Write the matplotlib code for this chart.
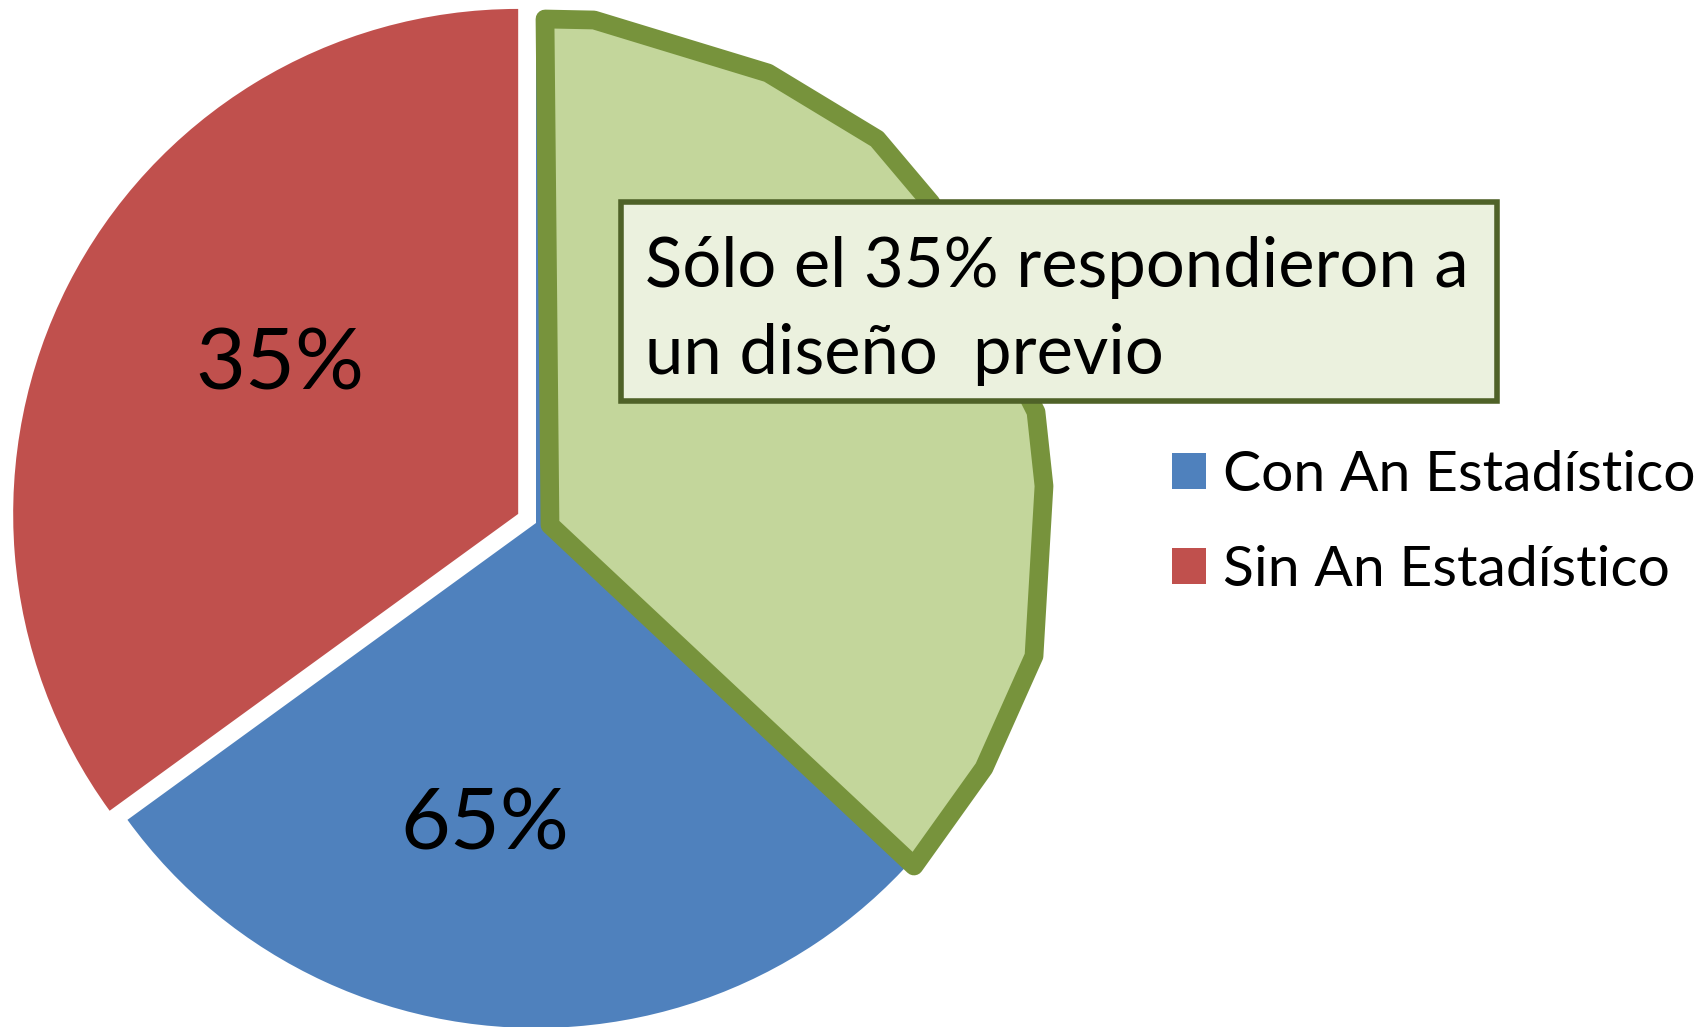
import numpy as np
import matplotlib.pyplot as plt
from matplotlib.patches import Polygon, Rectangle

plt.rcParams['font.family'] = ['Lato', 'DejaVu Sans']

W, H = 1701, 1027

labels = ["Con An Estadístico", "Sin An Estadístico"]
values = [65, 35]
colors = ["#4F81BD", "#C0504D"]
note_lines = ["Sólo el 35% respondieron a", "un diseño  previo"]

# hand-drawn highlight over the pie, in image pixels (x right, y down)
highlight = np.array([(545, 19), (594, 20), (768, 73), (877, 139), (931, 203),
                      (1036, 412), (1044, 486), (1034, 656), (984, 768),
                      (914, 866), (550, 525)], dtype=float)


def img(x, y):
    # image pixel -> data coords (y up)
    return x, H - y


fig = plt.figure(figsize=(W / 100, H / 100), dpi=100)
ax = fig.add_axes([0, 0, 1, 1])

cx, cy = img(536, 523)
# explode is in data units here (pixels)
wedges, _ = ax.pie(values, colors=colors, explode=[0, 20], startangle=216,
                   counterclock=True, center=(cx, cy), radius=505, frame=True,
                   wedgeprops=dict(linewidth=0))
ax.set_xlim(0, W)
ax.set_ylim(0, H)
ax.axis('off')

# percentage labels
pct_pos = [img(485, 826), img(280, 366)]
for v, (x, y) in zip(values, pct_pos):
    ax.text(x, y, "{}%".format(v), fontsize=62, ha='center', va='center',
            color='black', zorder=6)

# green highlight shape
pts = highlight.copy()
pts[:, 1] = H - pts[:, 1]
ax.add_patch(Polygon(pts, closed=True, facecolor="#C3D69B", edgecolor="#77933C",
                     linewidth=13.5, joinstyle='round', zorder=4))

# note box
x0, y0 = img(621, 401)
ax.add_patch(Rectangle((x0, y0), 1497 - 621, 401 - 202, facecolor="#EBF1DE",
                       edgecolor="#4F6228", linewidth=4, zorder=5))
for i, line in enumerate(note_lines):
    x, y = img(645, 287 + 87 * i)
    ax.text(x, y, line, fontsize=49.5, ha='left', va='baseline', zorder=6)

ax.legend(wedges, labels, loc='upper left', bbox_to_anchor=(1172 / W, 1 - 450 / H),
          bbox_transform=fig.transFigure, frameon=False, fontsize=41,
          handlelength=0.6, handleheight=0.6, handletextpad=0.3,
          labelspacing=0.78, borderpad=0, borderaxespad=0)

fig.savefig("out.png", dpi=100)
